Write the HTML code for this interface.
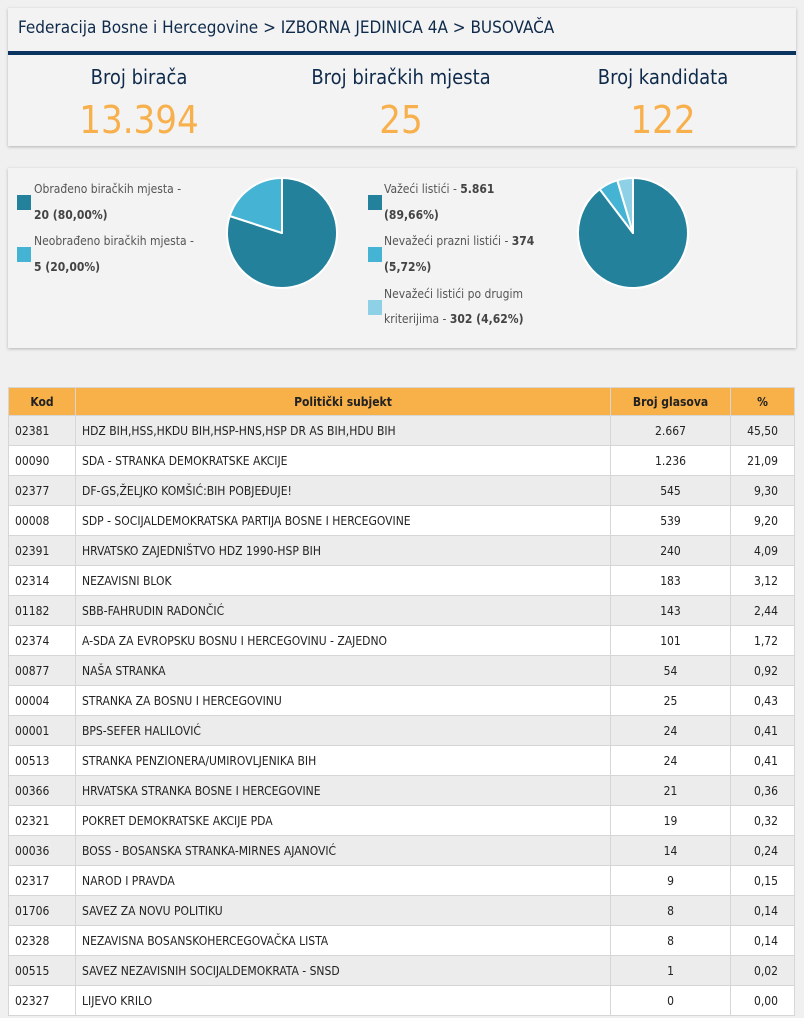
<!DOCTYPE html>
<html><head><meta charset="utf-8">
<style>
body{margin:0;width:804px;height:1018px;background:#f0f0f0;font-family:"DejaVu Sans Condensed","Liberation Sans",sans-serif;overflow:hidden;position:relative}
.p{position:absolute;background:#f3f3f3;box-shadow:0 1px 3px rgba(0,0,0,.25)}
.t{position:absolute;white-space:nowrap}
.h{font-size:17px;color:#0f2a4a;font-family:"DejaVu Sans Condensed","Liberation Sans Narrow",sans-serif}
.st{font-size:20px;color:#0f2a4a;width:260px;text-align:center;font-family:"DejaVu Sans Condensed",sans-serif}
.sn{font-size:38px;color:#f8b04c;width:260px;text-align:center;font-family:"DejaVu Sans Condensed",sans-serif}
.lg{font-size:12px;color:#555;font-family:"DejaVu Sans Condensed",sans-serif}
.lg b{color:#444}
.sq{position:absolute;width:14px;height:15px}
table{position:absolute;left:8px;top:387px;width:787px;border-collapse:collapse;font-size:12px;font-family:"DejaVu Sans Condensed",sans-serif;color:#222}
td,th{border:1px solid #d6d6d6;height:29px;padding:0 6px}
th{background:#f8b048;font-weight:bold;height:27px}
tr:nth-child(even) td{background:#ececec}
tr:nth-child(odd) td{background:#fff}
td:nth-child(3){text-align:center}
td:nth-child(4){text-align:right;padding-right:16px}
</style></head><body>
<div class="p" style="left:8px;top:8px;width:788px;height:138px"></div>
<div class="t h" style="left:18px;top:18px">Federacija Bosne i Hercegovine &gt; IZBORNA JEDINICA 4A &gt; BUSOVAČA</div>
<div style="position:absolute;left:8px;top:51px;width:788px;height:4px;background:#0b3360"></div>
<div class="t st" style="left:9px;top:65px">Broj birača</div>
<div class="t st" style="left:271px;top:65px">Broj biračkih mjesta</div>
<div class="t st" style="left:533px;top:65px">Broj kandidata</div>
<div class="t sn" style="left:9px;top:98px">13.394</div>
<div class="t sn" style="left:271px;top:98px">25</div>
<div class="t sn" style="left:533px;top:98px">122</div>

<div class="p" style="left:8px;top:168px;width:788px;height:180px"></div>
<div class="sq" style="left:17px;top:195px;background:#23819c"></div>
<div class="sq" style="left:17px;top:247px;background:#44b3d4"></div>
<div class="t lg" style="left:34px;top:182px">Obrađeno biračkih mjesta -</div>
<div class="t lg" style="left:34px;top:208px"><b>20 (80,00%)</b></div>
<div class="t lg" style="left:34px;top:234px">Neobrađeno biračkih mjesta -</div>
<div class="t lg" style="left:34px;top:260px"><b>5 (20,00%)</b></div>

<div class="sq" style="left:368px;top:195px;background:#23819c"></div>
<div class="sq" style="left:368px;top:247px;background:#44b3d4"></div>
<div class="sq" style="left:368px;top:300px;background:#8ed1e6"></div>
<div class="t lg" style="left:384px;top:182px">Važeći listići - <b>5.861</b></div>
<div class="t lg" style="left:384px;top:208px"><b>(89,66%)</b></div>
<div class="t lg" style="left:384px;top:234px">Nevažeći prazni listići - <b>374</b></div>
<div class="t lg" style="left:384px;top:260px"><b>(5,72%)</b></div>
<div class="t lg" style="left:384px;top:287px">Nevažeći listići po drugim</div>
<div class="t lg" style="left:384px;top:312px">kriterijima - <b>302 (4,62%)</b></div>

<svg style="position:absolute;left:0;top:0" width="804" height="400">
<g stroke="#fff" stroke-width="2" stroke-linejoin="round">
<path d="M282,233 L282,178 A55,55 0 1 1 229.7,216 Z" fill="#23819c"/>
<path d="M282,233 L229.7,216 A55,55 0 0 1 282,178 Z" fill="#44b3d4"/>
<path d="M633,233 L633,178 A55,55 0 1 1 599.7,189.2 Z" fill="#23819c"/>
<path d="M633,233 L599.7,189.2 A55,55 0 0 1 617.3,180.3 Z" fill="#44b3d4"/>
<path d="M633,233 L617.3,180.3 A55,55 0 0 1 633,178 Z" fill="#8ed1e6"/>
</g></svg>

<table>
<tr><th style="width:54px">Kod</th><th>Politički subjekt</th><th style="width:107px">Broj glasova</th><th style="width:51px">%</th></tr>
<tr><td>02381</td><td>HDZ BIH,HSS,HKDU BIH,HSP-HNS,HSP DR AS BIH,HDU BIH</td><td>2.667</td><td>45,50</td></tr>
<tr><td>00090</td><td>SDA - STRANKA DEMOKRATSKE AKCIJE</td><td>1.236</td><td>21,09</td></tr>
<tr><td>02377</td><td>DF-GS,ŽELJKO KOMŠIĆ:BIH POBJEĐUJE!</td><td>545</td><td>9,30</td></tr>
<tr><td>00008</td><td>SDP - SOCIJALDEMOKRATSKA PARTIJA BOSNE I HERCEGOVINE</td><td>539</td><td>9,20</td></tr>
<tr><td>02391</td><td>HRVATSKO ZAJEDNIŠTVO HDZ 1990-HSP BIH</td><td>240</td><td>4,09</td></tr>
<tr><td>02314</td><td>NEZAVISNI BLOK</td><td>183</td><td>3,12</td></tr>
<tr><td>01182</td><td>SBB-FAHRUDIN RADONČIĆ</td><td>143</td><td>2,44</td></tr>
<tr><td>02374</td><td>A-SDA ZA EVROPSKU BOSNU I HERCEGOVINU - ZAJEDNO</td><td>101</td><td>1,72</td></tr>
<tr><td>00877</td><td>NAŠA STRANKA</td><td>54</td><td>0,92</td></tr>
<tr><td>00004</td><td>STRANKA ZA BOSNU I HERCEGOVINU</td><td>25</td><td>0,43</td></tr>
<tr><td>00001</td><td>BPS-SEFER HALILOVIĆ</td><td>24</td><td>0,41</td></tr>
<tr><td>00513</td><td>STRANKA PENZIONERA/UMIROVLJENIKA BIH</td><td>24</td><td>0,41</td></tr>
<tr><td>00366</td><td>HRVATSKA STRANKA BOSNE I HERCEGOVINE</td><td>21</td><td>0,36</td></tr>
<tr><td>02321</td><td>POKRET DEMOKRATSKE AKCIJE PDA</td><td>19</td><td>0,32</td></tr>
<tr><td>00036</td><td>BOSS - BOSANSKA STRANKA-MIRNES AJANOVIĆ</td><td>14</td><td>0,24</td></tr>
<tr><td>02317</td><td>NAROD I PRAVDA</td><td>9</td><td>0,15</td></tr>
<tr><td>01706</td><td>SAVEZ ZA NOVU POLITIKU</td><td>8</td><td>0,14</td></tr>
<tr><td>02328</td><td>NEZAVISNA BOSANSKOHERCEGOVAČKA LISTA</td><td>8</td><td>0,14</td></tr>
<tr><td>00515</td><td>SAVEZ NEZAVISNIH SOCIJALDEMOKRATA - SNSD</td><td>1</td><td>0,02</td></tr>
<tr><td>02327</td><td>LIJEVO KRILO</td><td>0</td><td>0,00</td></tr>
</table>
</body></html>
